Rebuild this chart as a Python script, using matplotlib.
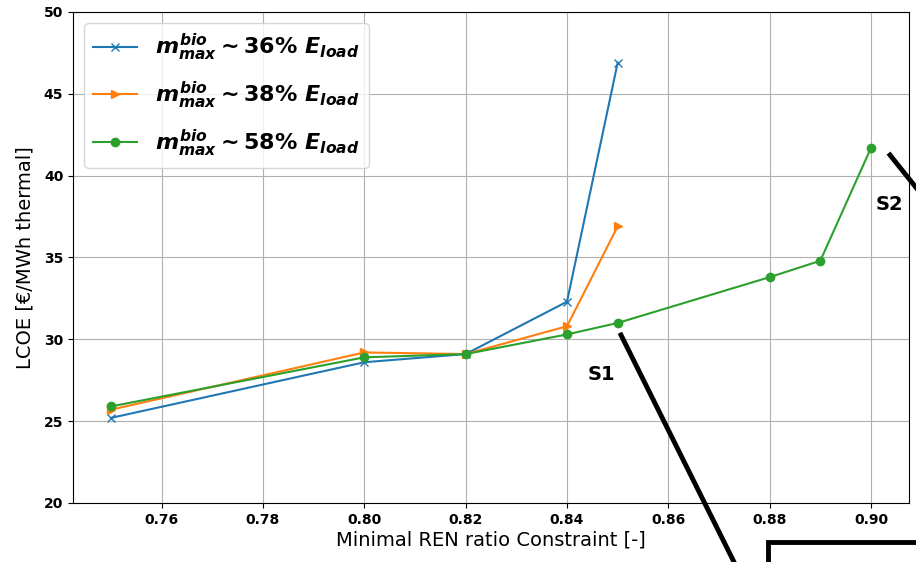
import matplotlib
matplotlib.use("Agg")
import matplotlib.pyplot as plt
from matplotlib.lines import Line2D
from matplotlib.patches import Rectangle

# data
ren_short = [0.75, 0.80, 0.82, 0.84, 0.85]
ren_long = [0.75, 0.80, 0.82, 0.84, 0.85, 0.88, 0.89, 0.90]
lcoe_36 = [25.2, 28.6, 29.1, 32.3, 46.9]
lcoe_38 = [25.7, 29.2, 29.1, 30.8, 36.9]
lcoe_58 = [25.9, 28.9, 29.1, 30.3, 31.0, 33.8, 34.8, 41.7]
labels = [r'$m_{max}^{bio} \sim 36\%\ E_{load}$',
          r'$m_{max}^{bio} \sim 38\%\ E_{load}$',
          r'$m_{max}^{bio} \sim 58\%\ E_{load}$']

# bold mathtext for the legend
plt.rcParams['mathtext.fontset'] = 'custom'
plt.rcParams['mathtext.rm'] = 'DejaVu Sans:bold'
plt.rcParams['mathtext.it'] = 'DejaVu Sans:italic:bold'
plt.rcParams['mathtext.bf'] = 'DejaVu Sans:bold'

W, H = 916, 562
fig = plt.figure(figsize=(W / 100, H / 100), dpi=100)
ax = fig.add_axes([73 / W, 1 - 503 / H, (909 - 73) / W, (503 - 12) / H])

ax.plot(ren_short, lcoe_36, marker='x', color='#1f77b4', label=labels[0])
ax.plot(ren_short, lcoe_38, marker='>', color='#ff7f0e', label=labels[1])
ax.plot(ren_long, lcoe_58, marker='o', color='#2ca02c', label=labels[2])

ax.set_ylim(20, 50)
ax.set_xticks([0.76, 0.78, 0.80, 0.82, 0.84, 0.86, 0.88, 0.90])
ax.grid(True)
ax.set_xlabel('Minimal REN ratio Constraint [-]', fontsize=14, labelpad=3)
ax.set_ylabel('LCOE [€/MWh thermal]', fontsize=14, labelpad=7)
for lbl in ax.get_xticklabels() + ax.get_yticklabels():
    lbl.set_fontweight('bold')
    lbl.set_fontsize(10)
ax.legend(loc='upper left', fontsize=16, labelspacing=0.75, borderaxespad=0.5)

# overlay annotations (slide markup)
fig.text(601 / W, 1 - 374 / H, 'S1', fontsize=14, fontweight='bold', ha='center', va='center')
fig.text(889 / W, 1 - 205 / H, 'S2', fontsize=14, fontweight='bold', ha='center', va='center')
fig.add_artist(Line2D([621 / W, 734 / W], [1 - 335 / H, 1 - 562 / H], color='black', lw=3.5,
                      transform=fig.transFigure))
fig.add_artist(Line2D([890 / W, 918 / W], [1 - 155 / H, 1 - 190 / H], color='black', lw=3.5,
                      transform=fig.transFigure))
fig.add_artist(Rectangle((768 / W, -0.05), 0.3, 0.05 + (562 - 542) / H, fill=False,
                         edgecolor='black', lw=3.5, transform=fig.transFigure, clip_on=False))

fig.savefig('out.png', dpi=100)
